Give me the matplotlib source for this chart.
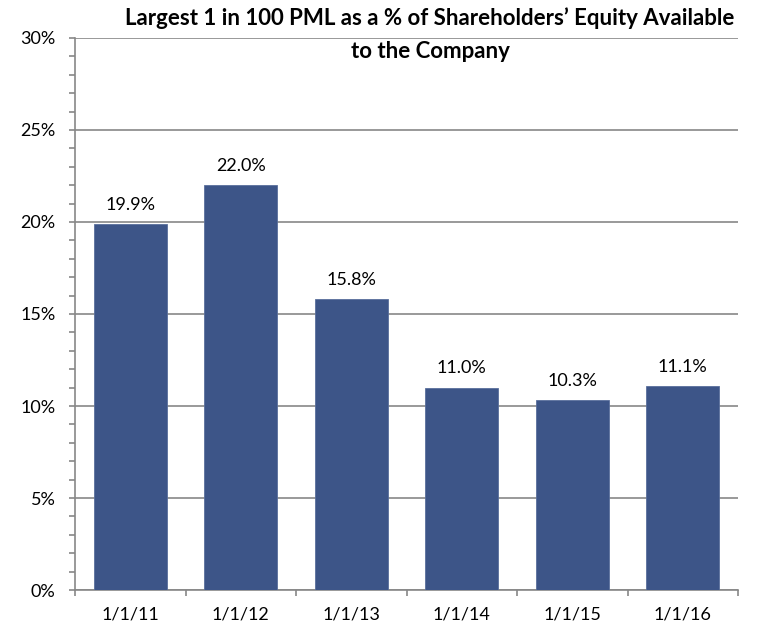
import numpy as np
import matplotlib.pyplot as plt
from matplotlib.ticker import MultipleLocator, FuncFormatter

dates = ['1/1/11', '1/1/12', '1/1/13', '1/1/14', '1/1/15', '1/1/16']
pml_pct = [19.9, 22.0, 15.8, 11.0, 10.3, 11.1]
labels = ['19.9%', '22.0%', '15.8%', '11.0%', '10.3%', '11.1%']
title_lines = ["Largest 1 in 100 PML as a % of Shareholders\u2019 Equity Available",
               "to the Company"]

plt.rcParams['font.family'] = ['Lato', 'DejaVu Sans']

bar_color = '#3D5588'
grid_color = '#878787'

fig = plt.figure(figsize=(7.78, 6.28), dpi=100)
ax = fig.add_axes([0.0964, 0.0605, 0.8522, 0.879])

x = np.arange(len(dates))
ax.bar(x, pml_pct, width=0.66, color=bar_color, edgecolor='#5A6F9C', linewidth=0.6, zorder=3)

for xi, v, lab in zip(x, pml_pct, labels):
    ax.annotate(lab, (xi, v), xytext=(0, 8), textcoords='offset points',
                ha='center', va='bottom', fontsize=13)

ax.set_xlim(-0.5, len(dates) - 0.5)
ax.set_ylim(0, 30)
ax.yaxis.set_major_locator(MultipleLocator(5))
ax.yaxis.set_minor_locator(MultipleLocator(1))
ax.yaxis.set_major_formatter(FuncFormatter(lambda v, p: f'{v:.0f}%'))
ax.grid(axis='y', color=grid_color, linewidth=1.2, zorder=0)

ax.set_xticks(x)
ax.set_xticklabels(dates)
ax.set_xticks(np.arange(-0.5, len(dates)), minor=True)
ax.tick_params(axis='x', which='major', length=0, pad=12, labelsize=13)
ax.tick_params(axis='x', which='minor', length=4, color=grid_color, width=1.2)
ax.tick_params(axis='y', which='major', length=4, color=grid_color, width=1.2, labelsize=13, pad=10)
ax.tick_params(axis='y', which='minor', length=4, color=grid_color, width=1.2)

for side in ['top', 'right']:
    ax.spines[side].set_visible(False)
for side in ['left', 'bottom']:
    ax.spines[side].set_color(grid_color)
    ax.spines[side].set_linewidth(1.2)

fig.text(0.5527, 1 - 18 / 628, title_lines[0], ha='center', va='center',
         fontsize=16, fontweight='bold')
fig.text(0.5527, 1 - 52 / 628, title_lines[1], ha='center', va='center',
         fontsize=16, fontweight='bold')

fig.savefig('out.png', dpi=100)
